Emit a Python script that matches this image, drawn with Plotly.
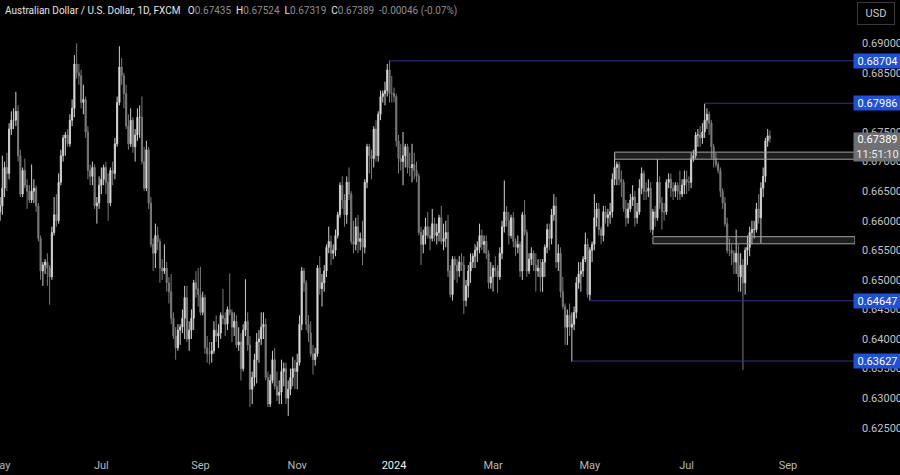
import pandas as pd
import plotly.graph_objects as go

# AUD/USD daily bars (FXCM), 1 May 2023 .. 21 Aug 2024, values in pips (x 1e-4)
opens = [
    6615, 6625, 6655, 6690, 6680, 6755, 6770, 6770, 6785, 6710, 6645, 6685, 6660, 6650, 6635, 6650, 6655, 6625, 6570, 6515, 6525, 6530, 6520,
    6505, 6580, 6610, 6600, 6665, 6710, 6740, 6745, 6730, 6770, 6790, 6865, 6850, 6845, 6800, 6805, 6750, 6685, 6675, 6690, 6625, 6630,
    6660, 6670, 6690, 6665, 6630, 6685, 6680, 6730, 6800, 6860, 6845, 6815, 6760, 6730, 6770, 6725, 6745, 6775, 6775, 6700, 6655,
    6720, 6630, 6560, 6545, 6575, 6565, 6520, 6515, 6520, 6495, 6480, 6435, 6405, 6385, 6415, 6420, 6435, 6470, 6400, 6415, 6435, 6495, 6485,
    6475, 6445, 6470, 6385, 6375, 6375, 6380, 6415, 6405, 6410, 6440, 6435, 6425, 6450, 6445, 6420, 6430, 6390, 6395, 6350, 6415,
    6430, 6390, 6315, 6335, 6365, 6395, 6400, 6420, 6425, 6335, 6290, 6330, 6365, 6320, 6305, 6310, 6345, 6350, 6300, 6315, 6335, 6350,
    6345, 6360, 6425, 6515, 6495, 6425, 6410, 6375, 6365, 6375, 6520, 6485, 6495, 6515, 6555, 6565, 6545, 6550, 6575, 6610, 6660, 6635,
    6610, 6665, 6645, 6565, 6560, 6590, 6565, 6570, 6555, 6665, 6725, 6710, 6705, 6755, 6710, 6780, 6810, 6815, 6820, 6855, 6815,
    6815, 6810, 6735, 6705, 6700, 6710, 6725, 6690, 6690, 6695, 6685, 6675, 6580, 6560, 6575, 6590, 6575, 6570, 6595, 6575, 6580, 6605, 6565,
    6570, 6580, 6515, 6475, 6535, 6525, 6515, 6530, 6525, 6465, 6490, 6515, 6530, 6540, 6550, 6555, 6575, 6560, 6565, 6545, 6495,
    6505, 6520, 6515, 6505, 6545, 6590, 6615, 6600, 6575, 6605, 6565, 6555, 6560, 6515, 6610, 6580, 6515, 6535, 6545, 6525, 6515,
    6520, 6505, 6530, 6555, 6585, 6570, 6610, 6625, 6530, 6545, 6480, 6455, 6420, 6440, 6420, 6425, 6445, 6495, 6510, 6515, 6535, 6560,
    6475, 6550, 6560, 6605, 6620, 6585, 6575, 6615, 6605, 6610, 6615, 6670, 6690, 6695, 6670, 6665, 6620, 6605, 6620, 6635, 6640, 6605, 6615,
    6655, 6680, 6650, 6650, 6655, 6585, 6615, 6605, 6665, 6630, 6615, 6615, 6665, 6670, 6655, 6650, 6660, 6650, 6645, 6660,
    6670, 6665, 6665, 6705, 6710, 6745, 6745, 6740, 6750, 6770, 6780, 6765, 6725, 6705, 6695, 6685, 6650, 6630, 6595, 6550, 6550, 6545, 6530,
    6545, 6505, 6525, 6495, 6550, 6555, 6580, 6585, 6585, 6620, 6605, 6655, 6675, 6735, 6743.5,
]
highs = [
    6640, 6710, 6700, 6715, 6765, 6785, 6790, 6818, 6795, 6720, 6690, 6705, 6670, 6660, 6695, 6670, 6660, 6630, 6575, 6530, 6535, 6545, 6525,
    6590, 6640, 6645, 6680, 6720, 6745, 6750, 6755, 6780, 6805, 6880, 6900, 6865, 6855, 6830, 6810, 6760, 6695, 6700, 6695, 6640, 6675,
    6690, 6695, 6700, 6680, 6690, 6700, 6740, 6810, 6895, 6875, 6850, 6830, 6780, 6790, 6775, 6755, 6790, 6795, 6810, 6725, 6735,
    6725, 6640, 6570, 6595, 6590, 6570, 6535, 6560, 6530, 6505, 6510, 6445, 6420, 6425, 6425, 6450, 6490, 6490, 6430, 6450, 6500, 6515, 6520,
    6522, 6480, 6475, 6405, 6395, 6395, 6430, 6440, 6425, 6445, 6485, 6445, 6455, 6511, 6450, 6445, 6440, 6420, 6410, 6425, 6501,
    6445, 6405, 6345, 6375, 6410, 6415, 6445, 6445, 6435, 6345, 6340, 6380, 6385, 6345, 6330, 6365, 6360, 6360, 6330, 6350, 6370, 6365,
    6375, 6440, 6522, 6520, 6500, 6440, 6430, 6390, 6385, 6525, 6540, 6510, 6525, 6560, 6590, 6575, 6560, 6585, 6615, 6665, 6675, 6645,
    6675, 6690, 6650, 6600, 6605, 6610, 6580, 6600, 6670, 6730, 6730, 6720, 6760, 6770, 6785, 6820, 6820, 6835, 6865, 6871, 6845,
    6825, 6815, 6745, 6730, 6750, 6730, 6730, 6715, 6730, 6715, 6700, 6680, 6590, 6585, 6605, 6615, 6590, 6620, 6605, 6595, 6610, 6625, 6595,
    6600, 6610, 6525, 6540, 6540, 6535, 6540, 6545, 6540, 6500, 6525, 6545, 6545, 6560, 6565, 6595, 6585, 6575, 6575, 6550, 6530,
    6525, 6540, 6525, 6555, 6600, 6668, 6625, 6615, 6610, 6615, 6570, 6575, 6565, 6615, 6635, 6585, 6545, 6555, 6550, 6545, 6535,
    6535, 6535, 6560, 6595, 6595, 6620, 6645, 6640, 6560, 6555, 6505, 6460, 6450, 6460, 6445, 6455, 6505, 6530, 6530, 6540, 6580, 6570,
    6555, 6565, 6645, 6630, 6630, 6590, 6625, 6625, 6620, 6630, 6680, 6714, 6700, 6700, 6685, 6670, 6635, 6630, 6645, 6660, 6650, 6630, 6670,
    6690, 6685, 6665, 6670, 6665, 6620, 6625, 6704, 6675, 6640, 6630, 6670, 6680, 6680, 6665, 6665, 6665, 6685, 6670, 6685,
    6685, 6675, 6715, 6720, 6750, 6755, 6760, 6765, 6798, 6790, 6785, 6770, 6730, 6715, 6700, 6690, 6655, 6640, 6605, 6570, 6560, 6550, 6585,
    6560, 6545, 6535, 6555, 6575, 6590, 6600, 6600, 6630, 6645, 6665, 6690, 6740, 6755, 6752.4,
]
lows = [
    6600, 6610, 6640, 6650, 6670, 6745, 6755, 6760, 6700, 6640, 6640, 6655, 6620, 6630, 6630, 6630, 6615, 6565, 6500, 6490, 6510, 6490, 6458,
    6500, 6575, 6590, 6595, 6660, 6700, 6710, 6725, 6725, 6760, 6775, 6840, 6830, 6790, 6780, 6740, 6670, 6660, 6660, 6620, 6595, 6620,
    6645, 6660, 6645, 6600, 6625, 6660, 6670, 6725, 6795, 6830, 6790, 6755, 6720, 6725, 6715, 6700, 6735, 6740, 6695, 6650, 6650,
    6620, 6555, 6515, 6520, 6550, 6495, 6500, 6510, 6480, 6460, 6425, 6400, 6365, 6380, 6390, 6410, 6400, 6395, 6380, 6400, 6415, 6470, 6455,
    6440, 6440, 6375, 6360, 6357, 6360, 6375, 6395, 6385, 6400, 6425, 6405, 6415, 6440, 6395, 6405, 6385, 6380, 6330, 6345, 6405,
    6380, 6285, 6290, 6320, 6325, 6360, 6390, 6400, 6330, 6285, 6285, 6325, 6315, 6295, 6290, 6290, 6320, 6290, 6270, 6305, 6320, 6315,
    6315, 6355, 6415, 6480, 6415, 6395, 6370, 6340, 6355, 6370, 6475, 6455, 6480, 6505, 6545, 6525, 6535, 6540, 6570, 6605, 6620, 6590,
    6595, 6635, 6560, 6545, 6550, 6545, 6550, 6525, 6545, 6655, 6680, 6670, 6690, 6700, 6700, 6770, 6800, 6795, 6810, 6800, 6800,
    6800, 6725, 6680, 6685, 6660, 6690, 6680, 6675, 6665, 6670, 6665, 6575, 6525, 6545, 6560, 6570, 6550, 6565, 6565, 6560, 6565, 6560, 6550,
    6555, 6505, 6470, 6465, 6500, 6495, 6505, 6515, 6442, 6455, 6470, 6495, 6520, 6520, 6530, 6545, 6550, 6545, 6535, 6485, 6485,
    6480, 6505, 6478, 6500, 6535, 6580, 6590, 6560, 6570, 6555, 6540, 6545, 6505, 6500, 6575, 6505, 6510, 6525, 6515, 6480, 6505,
    6480, 6480, 6505, 6545, 6550, 6560, 6600, 6520, 6515, 6470, 6450, 6390, 6390, 6405, 6362, 6415, 6435, 6485, 6480, 6505, 6530, 6470,
    6465, 6530, 6550, 6590, 6575, 6560, 6565, 6595, 6590, 6595, 6605, 6660, 6660, 6660, 6640, 6615, 6590, 6595, 6615, 6625, 6590, 6595, 6610,
    6645, 6635, 6635, 6640, 6580, 6575, 6590, 6600, 6620, 6585, 6600, 6610, 6655, 6640, 6635, 6640, 6635, 6635, 6640, 6645,
    6645, 6650, 6655, 6700, 6705, 6725, 6725, 6730, 6740, 6755, 6745, 6705, 6690, 6690, 6680, 6640, 6620, 6590, 6545, 6540, 6525, 6510, 6510,
    6480, 6480, 6348, 6475, 6525, 6540, 6560, 6570, 6580, 6595, 6562, 6640, 6665, 6725, 6731.9,
]
closes = [
    6625, 6655, 6690, 6680, 6755, 6770, 6770, 6785, 6710, 6645, 6685, 6660, 6650, 6635, 6650, 6655, 6625, 6570, 6515, 6525, 6530, 6520, 6505,
    6580, 6610, 6600, 6665, 6710, 6740, 6745, 6730, 6770, 6790, 6865, 6850, 6845, 6800, 6805, 6750, 6685, 6675, 6690, 6625, 6630, 6660,
    6670, 6690, 6665, 6630, 6685, 6680, 6730, 6800, 6860, 6845, 6815, 6760, 6730, 6770, 6725, 6745, 6775, 6775, 6700, 6655, 6720,
    6630, 6560, 6545, 6575, 6565, 6520, 6515, 6520, 6495, 6480, 6435, 6405, 6385, 6415, 6420, 6435, 6470, 6400, 6415, 6435, 6495, 6485, 6475,
    6445, 6470, 6385, 6375, 6375, 6380, 6415, 6405, 6410, 6440, 6435, 6425, 6450, 6445, 6420, 6430, 6390, 6395, 6350, 6415, 6430,
    6390, 6315, 6335, 6365, 6395, 6400, 6420, 6425, 6335, 6290, 6330, 6365, 6320, 6305, 6310, 6345, 6350, 6300, 6315, 6335, 6350, 6345,
    6360, 6425, 6515, 6495, 6425, 6410, 6375, 6365, 6375, 6520, 6485, 6495, 6515, 6555, 6565, 6545, 6550, 6575, 6610, 6660, 6635, 6610,
    6665, 6645, 6565, 6560, 6590, 6565, 6570, 6555, 6665, 6725, 6710, 6705, 6755, 6710, 6780, 6810, 6815, 6820, 6855, 6815, 6815,
    6810, 6735, 6705, 6700, 6710, 6725, 6690, 6690, 6695, 6685, 6675, 6580, 6560, 6575, 6590, 6575, 6570, 6595, 6575, 6580, 6605, 6565, 6570,
    6580, 6515, 6475, 6535, 6525, 6515, 6530, 6525, 6465, 6490, 6515, 6530, 6540, 6550, 6555, 6575, 6560, 6565, 6545, 6495, 6505,
    6520, 6515, 6505, 6545, 6590, 6615, 6600, 6575, 6605, 6565, 6555, 6560, 6515, 6610, 6580, 6515, 6535, 6545, 6525, 6515, 6520,
    6505, 6530, 6555, 6585, 6570, 6610, 6625, 6530, 6545, 6480, 6455, 6420, 6440, 6420, 6425, 6445, 6495, 6510, 6515, 6535, 6560, 6475,
    6550, 6560, 6605, 6620, 6585, 6575, 6615, 6605, 6610, 6615, 6670, 6690, 6695, 6670, 6665, 6620, 6605, 6620, 6635, 6640, 6605, 6615, 6655,
    6680, 6650, 6650, 6655, 6585, 6615, 6605, 6665, 6630, 6615, 6615, 6665, 6670, 6655, 6650, 6660, 6650, 6645, 6660, 6670,
    6665, 6665, 6705, 6710, 6745, 6745, 6740, 6750, 6770, 6780, 6765, 6725, 6705, 6695, 6685, 6650, 6630, 6595, 6550, 6550, 6545, 6530, 6545,
    6505, 6525, 6495, 6550, 6555, 6580, 6585, 6585, 6620, 6605, 6655, 6675, 6735, 6743.5, 6738.9,
]
dates = pd.bdate_range("2023-05-01", "2024-08-21")

# horizontal levels (blue) and grey zones drawn on the chart
level_prices = [0.68704, 0.67986, 0.64647, 0.63627]
level_starts = ["2023-12-28", "2024-07-11", "2024-05-01", "2024-04-19"]
zone_tops = [0.6716, 0.6573]
zone_bottoms = [0.6704, 0.6561]
zone_starts = ["2024-05-16", "2024-06-10"]

tick_dates = ["2023-05-01", "2023-07-03", "2023-09-01", "2023-11-01", "2024-01-01",
              "2024-03-01", "2024-05-01", "2024-07-01", "2024-09-02"]
tick_labels = ["May", "Jul", "Sep", "Nov", "<span style='color:#f0f0f0'>2024</span>",
               "Mar", "May", "Jul", "Sep"]
price_ticks = [0.625, 0.63, 0.635, 0.64, 0.645, 0.65, 0.655, 0.66, 0.665, 0.67, 0.675, 0.68, 0.685, 0.69]
countdown = "11:51:10"
x_start = "2023-04-28 23:00"
x_end = "2024-10-11 19:00"

o = [v / 10000 for v in opens]
h = [v / 10000 for v in highs]
l = [v / 10000 for v in lows]
c = [v / 10000 for v in closes]
assert len(dates) == len(o) == len(h) == len(l) == len(c)

FONT = "Roboto, Noto Sans, sans-serif"
fig = go.Figure(
    go.Candlestick(
        x=dates,
        open=o,
        high=h,
        low=l,
        close=c,
        increasing=dict(line=dict(color="#d0d0d0", width=1), fillcolor="#f4f4f4"),
        decreasing=dict(line=dict(color="#7a7a7a", width=1), fillcolor="#7a7a7a"),
        whiskerwidth=0,
        hoverinfo="skip",
    )
)

shapes = []
for top, bottom, start in zip(zone_tops, zone_bottoms, zone_starts):
    shapes.append(dict(type="rect", xref="x", yref="y", x0=start, x1=x_end, y0=bottom, y1=top,
                       fillcolor="rgba(150,150,150,0.2)", line=dict(color="#a0a0a0", width=1), layer="above"))
for price, start in zip(level_prices, level_starts):
    shapes.append(dict(type="line", xref="x", yref="y", x0=start, x1=x_end, y0=price, y1=price,
                       line=dict(color="#2a3688", width=1), layer="above"))

annotations = []
for price in level_prices:
    annotations.append(dict(xref="paper", yref="y", x=1, y=price, xanchor="left", yanchor="middle", xshift=-2,
                            text=f"{price:.5f}", showarrow=False, bgcolor="#1f50d8", borderpad=1,
                            width=45, height=12, font=dict(family=FONT, size=11, color="#ffffff")))
annotations.append(dict(xref="paper", yref="y", x=1, y=c[-1], xanchor="left", yanchor="top", xshift=-2, yshift=7,
                        text=f"{c[-1]:.5f}<br><span style='color:#e8e8e8'>{countdown}</span>",
                        showarrow=False, bgcolor="#707073", borderpad=1, width=45, height=26, align="center",
                        font=dict(family=FONT, size=11, color="#ffffff")))
annotations.append(dict(xref="paper", yref="paper", x=1, y=1, xanchor="left", yanchor="top", xshift=2, yshift=-2,
                        text="USD", showarrow=False, bgcolor="#000000", bordercolor="#3a3a3a", borderwidth=1,
                        borderpad=4, width=28, font=dict(family=FONT, size=11, color="#c8c8c8")))
grey = "#8f8f8f"
header = (
    "Australian Dollar / U.S. Dollar, 1D, FXCM&nbsp;&nbsp;&nbsp;"
    f"O<span style='color:{grey}'>{o[-1]:.5f}</span>&nbsp;&nbsp;"
    f"H<span style='color:{grey}'>{h[-1]:.5f}</span>&nbsp;&nbsp;"
    f"L<span style='color:{grey}'>{l[-1]:.5f}</span>&nbsp;&nbsp;"
    f"C<span style='color:{grey}'>{c[-1]:.5f}</span>&nbsp;&nbsp;"
    f"<span style='color:{grey}'>{c[-1] - o[-1]:.5f} ({(c[-1] - o[-1]) / o[-1] * 100:.2f}%)</span>"
)
annotations.append(dict(xref="paper", yref="paper", x=0, y=1, xanchor="left", yanchor="top", xshift=3, yshift=-3,
                        text=header, showarrow=False, align="left",
                        font=dict(family=FONT, size=10, color="#e6e6e6")))

fig.update_layout(
    width=900,
    height=475,
    margin=dict(l=0, r=45, t=0, b=28, autoexpand=False),
    paper_bgcolor="#000000",
    plot_bgcolor="#000000",
    showlegend=False,
    shapes=shapes,
    annotations=annotations,
    xaxis=dict(
        type="date",
        range=[x_start, x_end],
        rangebreaks=[dict(bounds=["sat", "mon"])],
        rangeslider=dict(visible=False),
        tickvals=tick_dates,
        ticktext=tick_labels,
        tickfont=dict(family=FONT, size=11, color="#b8b8b8"),
        ticks="",
        ticklabelstandoff=10,
        ticklabeloverflow="allow",
        automargin=False,
        showgrid=False,
        zeroline=False,
        showline=False,
        fixedrange=True,
    ),
    yaxis=dict(
        side="right",
        range=[0.62174, 0.69732],
        tickvals=price_ticks,
        ticktext=[f"{p:.5f}" for p in price_ticks],
        tickfont=dict(family=FONT, size=11, color="#c4c4c4"),
        ticks="",
        ticklabelstandoff=6,
        automargin=False,
        showgrid=False,
        zeroline=False,
        showline=False,
        fixedrange=True,
    ),
)

# the page's default body margin would push the 900x475 figure off the window
fig.write_html(
    "out.html",
    config={"displayModeBar": False},
    post_script="document.body.style.margin='0';document.body.style.overflow='hidden';",
)
